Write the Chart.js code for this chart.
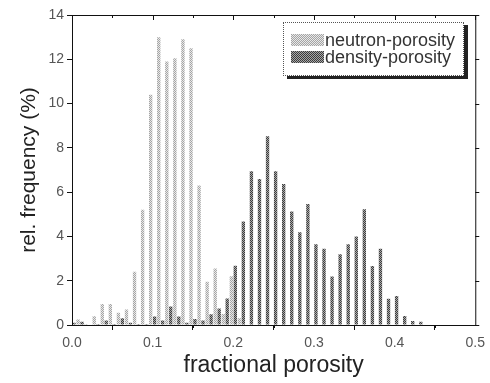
<!DOCTYPE html>
<html>
<head>
<meta charset="utf-8">
<script src="https://cdn.jsdelivr.net/npm/chart.js@4"></script>
<style>
  html, body { margin: 0; padding: 0; background: #fff; }
  #wrap { position: relative; width: 490px; height: 383px; }
  #legend {
    position: absolute; left: 283px; top: 22px; width: 179px; height: 52px;
    border: 1px dotted #555; background: #fff; box-shadow: 4px 3px 0 #222;
    font-family: "Liberation Sans", Arial, sans-serif; font-size: 18px; color: #333;
  }
  .row { position: absolute; left: 7px; height: 16px; line-height: 16px; white-space: nowrap; }
  .sw { display: inline-block; width: 33px; height: 12px; vertical-align: middle; margin-right: 1px; position: relative; top: -1px; }
</style>
</head>
<body>
<div id="wrap">
  <canvas id="c" width="490" height="383"></canvas>
  <div id="legend">
    <div class="row" style="top:9px"><span class="sw" id="sw1"></span>neutron-porosity</div>
    <div class="row" style="top:26px"><span class="sw" id="sw2"></span>density-porosity</div>
  </div>
</div>
<script>
// Bin centres (fractional porosity)
const binCenters = [0.00,0.01,0.02,0.03,0.04,0.05,0.06,0.07,0.08,0.09,
                    0.10,0.11,0.12,0.13,0.14,0.15,0.16,0.17,0.18,0.19,
                    0.20,0.21,0.22,0.23,0.24,0.25,0.26,0.27,0.28,0.29,
                    0.30,0.31,0.32,0.33,0.34,0.35,0.36,0.37,0.38,0.39,
                    0.40,0.41,0.42,0.43];
// Relative frequency (%) – neutron porosity
const neutronPct = [0.15,0.25,0.05,0.4,0.95,0.95,0.55,0.7,2.4,5.2,
                    10.4,13.0,11.9,12.05,12.9,12.5,6.3,1.95,2.55,0.5,
                    2.2,0.3,0,0,0,0,0,0,0,0,
                    0,0,0,0,0,0,0,0,0,0,
                    0,0,0,0];
// Relative frequency (%) – density porosity
const densityPct = [0.1,0.15,0,0.05,0.2,0.05,0.3,0.1,0.05,0.05,
                    0.38,0.2,0.83,0.38,0.1,0.27,0.2,0.48,0.75,1.2,
                    2.68,4.67,6.94,6.59,8.52,6.94,6.37,5.13,4.19,5.46,
                    3.65,3.44,2.19,3.2,3.65,4.0,5.23,2.67,3.44,1.18,
                    1.31,0.41,0.18,0.15];
const seriesNames = ["neutron-porosity", "density-porosity"];
const xTicks = [0.0, 0.1, 0.2, 0.3, 0.4, 0.5];
const yTicks = [0, 2, 4, 6, 8, 10, 12, 14];

function makePattern(dark, light) {
  const p = document.createElement('canvas');
  p.width = 2; p.height = 2;
  const g = p.getContext('2d');
  g.fillStyle = light; g.fillRect(0, 0, 2, 2);
  g.fillStyle = dark; g.fillRect(0, 0, 1, 1); g.fillRect(1, 1, 1, 1);
  return p;
}
const pNeutron = makePattern('#a4a4a4', '#e8e8e8');
const pDensity = makePattern('#3c3c3c', '#a8a8a8');
document.getElementById('sw1').style.background = 'url(' + pNeutron.toDataURL() + ')';
document.getElementById('sw2').style.background = 'url(' + pDensity.toDataURL() + ')';

const ctx = document.getElementById('c').getContext('2d');
const fillN = ctx.createPattern(pNeutron, 'repeat');
const fillD = ctx.createPattern(pDensity, 'repeat');

const framePlugin = {
  id: 'frame',
  afterDraw(chart) {
    const { ctx, chartArea: a, scales } = chart;
    ctx.save();
    ctx.strokeStyle = '#111';
    ctx.lineWidth = 1;
    ctx.strokeRect(a.left + 0.5, a.top + 0.5, a.right - a.left, a.bottom - a.top);
    ctx.beginPath();
    for (let v = 0; v <= 0.5001; v += 0.05) {
      const x = Math.round(scales.x.getPixelForValue(v)) + 0.5;
      const major = Math.abs(v * 10 - Math.round(v * 10)) < 1e-6;
      const len = major ? 5 : 3;
      ctx.moveTo(x, a.top); ctx.lineTo(x, a.top + len);
      if (!major) { ctx.moveTo(x, a.bottom); ctx.lineTo(x, a.bottom + 3); }
    }
    yTicks.forEach(v => {
      const y = Math.round(scales.y.getPixelForValue(v)) + 0.5;
      ctx.moveTo(a.right, y); ctx.lineTo(a.right + 4, y);
    });
    ctx.stroke();
    ctx.restore();
  }
};

new Chart(ctx, {
  type: 'bar',
  data: {
    datasets: [
      { label: seriesNames[0], data: binCenters.map((x, i) => ({ x, y: neutronPct[i] })),
        backgroundColor: fillN, borderWidth: 0 },
      { label: seriesNames[1], data: binCenters.map((x, i) => ({ x, y: densityPct[i] })),
        backgroundColor: fillD, borderWidth: 0 }
    ]
  },
  options: {
    responsive: false,
    animation: false,
    events: [],
    layout: { padding: { top: 15, right: 14, left: 0, bottom: 0 } },
    datasets: { bar: { barPercentage: 0.85, categoryPercentage: 0.98 } },
    plugins: { legend: { display: false }, tooltip: { enabled: false } },
    scales: {
      x: {
        type: 'linear', min: 0, max: 0.5, offset: false,
        afterBuildTicks: s => { s.ticks = xTicks.map(v => ({ value: v })); },
        afterFit: s => { s.height = 58; },
        ticks: { callback: v => Number(v).toFixed(1), color: '#555', padding: 5, maxRotation: 0,
                 font: { family: 'Liberation Sans, Arial, sans-serif', size: 14 } },
        grid: { display: true, drawOnChartArea: false, drawTicks: true, tickLength: 5, color: '#111' },
        border: { display: true, color: '#111' },
        title: { display: true, text: 'fractional porosity', color: '#222', padding: { top: 0, bottom: 4 },
                 font: { family: 'Liberation Sans, Arial, sans-serif', size: 23 } }
      },
      y: {
        min: 0, max: 14,
        afterBuildTicks: s => { s.ticks = yTicks.map(v => ({ value: v })); },
        afterFit: s => { s.width = 72; },
        ticks: { color: '#555', padding: 3,
                 font: { family: 'Liberation Sans, Arial, sans-serif', size: 14 } },
        grid: { display: true, drawOnChartArea: false, drawTicks: true, tickLength: 5, color: '#111' },
        border: { display: true, color: '#111' },
        title: { display: true, text: 'rel. frequency (%)', color: '#222', padding: { top: 17, bottom: 0 },
                 font: { family: 'Liberation Sans, Arial, sans-serif', size: 21 } }
      }
    }
  },
  plugins: [framePlugin]
});
</script>
</body>
</html>
